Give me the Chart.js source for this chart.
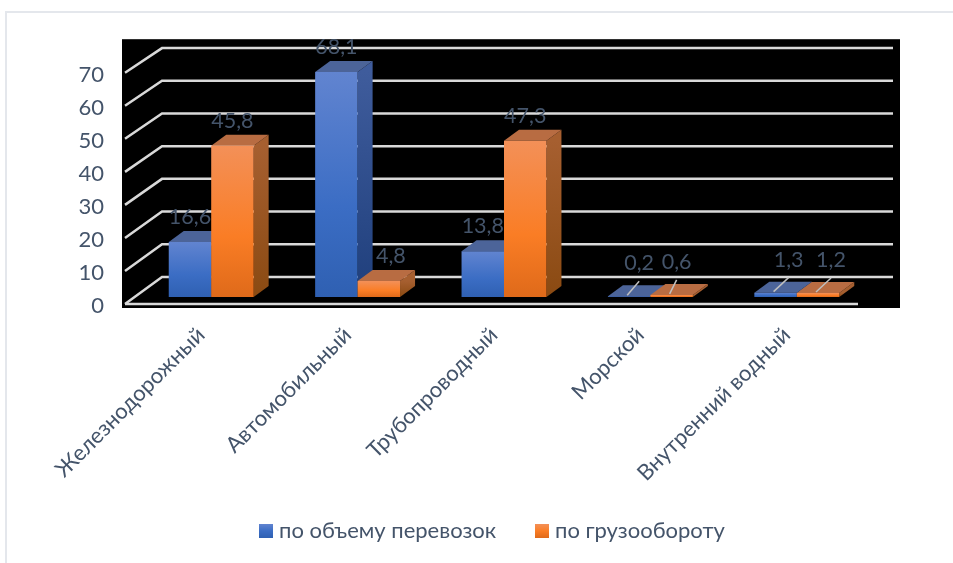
<!DOCTYPE html>
<html lang="ru">
<head>
<meta charset="utf-8">
<title>Транспорт</title>
<script src="https://cdn.jsdelivr.net/npm/chart.js@4"></script>
<style>
    html, body { margin: 0; padding: 0; background: #fff; overflow: hidden; }
    #frame { position: absolute; left: 5px; top: 11px; right: 0; bottom: 0;
             border-left: 2px solid #e4e7ec; border-top: 2px solid #e4e7ec; }
    #chart { position: absolute; left: 0; top: 0; }
    .legend-item { position: absolute; top: 516px; height: 30px; line-height: 30px; white-space: nowrap;
                   font: 22px Lato, sans-serif; color: #44546a; }
    .legend-item i { position: absolute; left: -20px; top: 8px; width: 14px; height: 14px; }
</style>
</head>
<body>
<div id="frame"></div>
<canvas id="chart" width="953" height="563"></canvas>
<div id="legend"></div>
<script>
const categories = ['Железнодорожный', 'Автомобильный', 'Трубопроводный', 'Морской', 'Внутренний водный'];
const seriesNames = ['по объему перевозок', 'по грузообороту'];
const volumeValues = [16.6, 68.1, 13.8, 0.2, 1.3];
const turnoverValues = [45.8, 4.8, 47.3, 0.6, 1.2];
const yTicks = [0, 10, 20, 30, 40, 50, 60, 70];

const textColor = '#44546a';
const gridColor = '#d9d9d9';

// colours for the front, side and top faces of each series
const palette = [
    { front: ['#6184d0', '#3b6dc4', '#2f60b2'], side: ['#3f5c9c', '#1f3f7c'], top: '#4c6499' },
    { front: ['#f39058', '#fa7d25', '#df6a1a'], side: ['#a65f30', '#8a4a12'], top: '#b86c42' }
];

// extrusion of a bar and of the chart floor, in pixels
const barDepth = { dx: 15, dy: -11 };
const wall = { front: 7, back: -20, backScale: 0.99 };

function frontGradient(context, colors) {
    const { ctx, scales } = context.chart;
    const top = scales.y.getPixelForValue(context.raw);
    const base = scales.y.getPixelForValue(0);
    // scales have no pixels yet on the very first pass
    if (!Number.isFinite(top) || !Number.isFinite(base)) return colors[1];
    const g = ctx.createLinearGradient(0, top, 0, base);
    g.addColorStop(0, colors[0]);
    g.addColorStop(0.6, colors[1]);
    g.addColorStop(1, colors[2]);
    return g;
}

// black plot background
const plotBackground = {
    id: 'plotBackground',
    beforeDraw(chart) {
        const { ctx, chartArea: a } = chart;
        ctx.save();
        ctx.fillStyle = '#000';
        ctx.fillRect(a.left - 16, a.top, a.right - a.left + 46, a.bottom - a.top);
        ctx.restore();
    }
};

// horizontal lines on the back wall with their slanted part on the side wall
const wallGrid = {
    id: 'wallGrid',
    beforeDatasetsDraw(chart) {
        const { ctx, chartArea: a, scales: { y } } = chart;
        const frontX = a.left - 13, backX = a.left + 24, backEnd = a.right + 23;
        const zero = y.getPixelForValue(0);
        ctx.save();
        ctx.strokeStyle = gridColor;
        ctx.lineWidth = 2.5;
        yTicks.forEach(v => {
            const py = y.getPixelForValue(v);
            // the back wall is further away, so its lines sit a bit closer together
            const backY = zero + (py - zero) * wall.backScale + wall.back;
            ctx.beginPath();
            ctx.moveTo(frontX, py + wall.front);
            ctx.lineTo(backX, backY);
            ctx.lineTo(backEnd, backY);
            ctx.stroke();
        });
        const floorY = zero + wall.front;
        ctx.beginPath();
        ctx.moveTo(frontX, floorY);
        ctx.lineTo(a.right - 12, floorY);
        ctx.stroke();
        ctx.restore();
    }
};

function drawExtrusion(ctx, meta, colors) {
    const { dx, dy } = barDepth;
    ctx.save();
    meta.data.forEach(bar => {
        const l = bar.x - bar.width / 2, r = bar.x + bar.width / 2;
        const side = ctx.createLinearGradient(0, bar.y, 0, bar.base);
        side.addColorStop(0, colors.side[0]);
        side.addColorStop(1, colors.side[1]);
        ctx.fillStyle = side;
        ctx.beginPath();
        ctx.moveTo(r, bar.y);
        ctx.lineTo(r + dx, bar.y + dy);
        ctx.lineTo(r + dx, bar.base + dy);
        ctx.lineTo(r, bar.base);
        ctx.closePath();
        ctx.fill();
        ctx.fillStyle = colors.top;
        ctx.beginPath();
        ctx.moveTo(l, bar.y);
        ctx.lineTo(l + dx, bar.y + dy);
        ctx.lineTo(r + dx, bar.y + dy);
        ctx.lineTo(r, bar.y);
        ctx.closePath();
        ctx.fill();
    });
    ctx.restore();
}

// Chart.js paints the first dataset last, but here the right bar has to
// cover the left one, so the series are painted in dataset order instead
const layeredBars = {
    id: 'layeredBars',
    beforeDatasetsDraw(chart) {
        chart.data.datasets.forEach((ds, i) => {
            const meta = chart.getDatasetMeta(i);
            drawExtrusion(chart.ctx, meta, palette[i]);
            meta.controller.draw();
        });
        return false;
    }
};

// value labels; the tiniest bars get a leader line
const valueLabels = {
    id: 'valueLabels',
    afterDraw(chart, args, opts) {
        const { ctx } = chart;
        ctx.save();
        ctx.font = '21.5px Lato, sans-serif';
        ctx.textAlign = 'center';
        ctx.textBaseline = 'middle';
        chart.data.datasets.forEach((ds, i) => {
            chart.getDatasetMeta(i).data.forEach((bar, j) => {
                const value = ds.data[j];
                const small = value < 2;
                const lx = bar.x + opts.shift[i][j];
                const ly = bar.y - (small ? 33 : 25);
                if (small) {
                    ctx.strokeStyle = '#bfbfbf';
                    ctx.lineWidth = 1.5;
                    ctx.beginPath();
                    ctx.moveTo(bar.x - 2, bar.y - 1);
                    ctx.lineTo(lx, ly + 18);
                    ctx.stroke();
                }
                ctx.fillStyle = textColor;
                ctx.fillText(String(value).replace('.', ','), lx, ly);
            });
        });
        ctx.restore();
    }
};

new Chart(document.getElementById('chart'), {
    type: 'bar',
    data: {
        labels: categories,
        datasets: [
            {
                label: seriesNames[0],
                data: volumeValues,
                backgroundColor: c => frontGradient(c, palette[0].front)
            },
            {
                label: seriesNames[1],
                data: turnoverValues,
                backgroundColor: c => frontGradient(c, palette[1].front)
            }
        ]
    },
    options: {
        responsive: false,
        animation: false,
        layout: { autoPadding: false, padding: { top: 37, right: 83 } },
        categoryPercentage: 0.58,
        barPercentage: 1,
        scales: {
            x: {
                grid: { display: false },
                border: { display: false },
                afterFit: s => { s.height = 255; },
                ticks: {
                    color: textColor,
                    font: { family: 'Lato, sans-serif', size: 22 },
                    minRotation: 45,
                    maxRotation: 45,
                    autoSkip: false,
                    padding: 6,
                    labelOffset: -10
                }
            },
            y: {
                min: -3.35,
                max: 78.05,
                grid: { display: false },
                border: { display: false },
                afterFit: s => { s.width = 138; },
                afterBuildTicks: s => { s.ticks = yTicks.map(value => ({ value })); },
                ticks: {
                    color: textColor,
                    font: { family: 'Lato, sans-serif', size: 22 },
                    padding: 26,
                    labelOffset: wall.front + 2
                }
            }
        },
        plugins: {
            legend: { display: false },
            tooltip: { enabled: false },
            valueLabels: { shift: [[0, 0, 0, 10, 13], [0, 12, 0, 5, 13]] }
        }
    },
    plugins: [plotBackground, wallGrid, layeredBars, valueLabels]
});

// legend as plain markup so swatch and text sit exactly where wanted
const legendX = [279, 555];
const legendEl = document.getElementById('legend');
seriesNames.forEach((name, i) => {
    const item = document.createElement('div');
    item.className = 'legend-item';
    item.style.left = legendX[i] + 'px';
    item.textContent = name;
    const swatch = document.createElement('i');
    swatch.style.background = `linear-gradient(${palette[i].front.join(',')})`;
    item.appendChild(swatch);
    legendEl.appendChild(item);
});
</script>
</body>
</html>
